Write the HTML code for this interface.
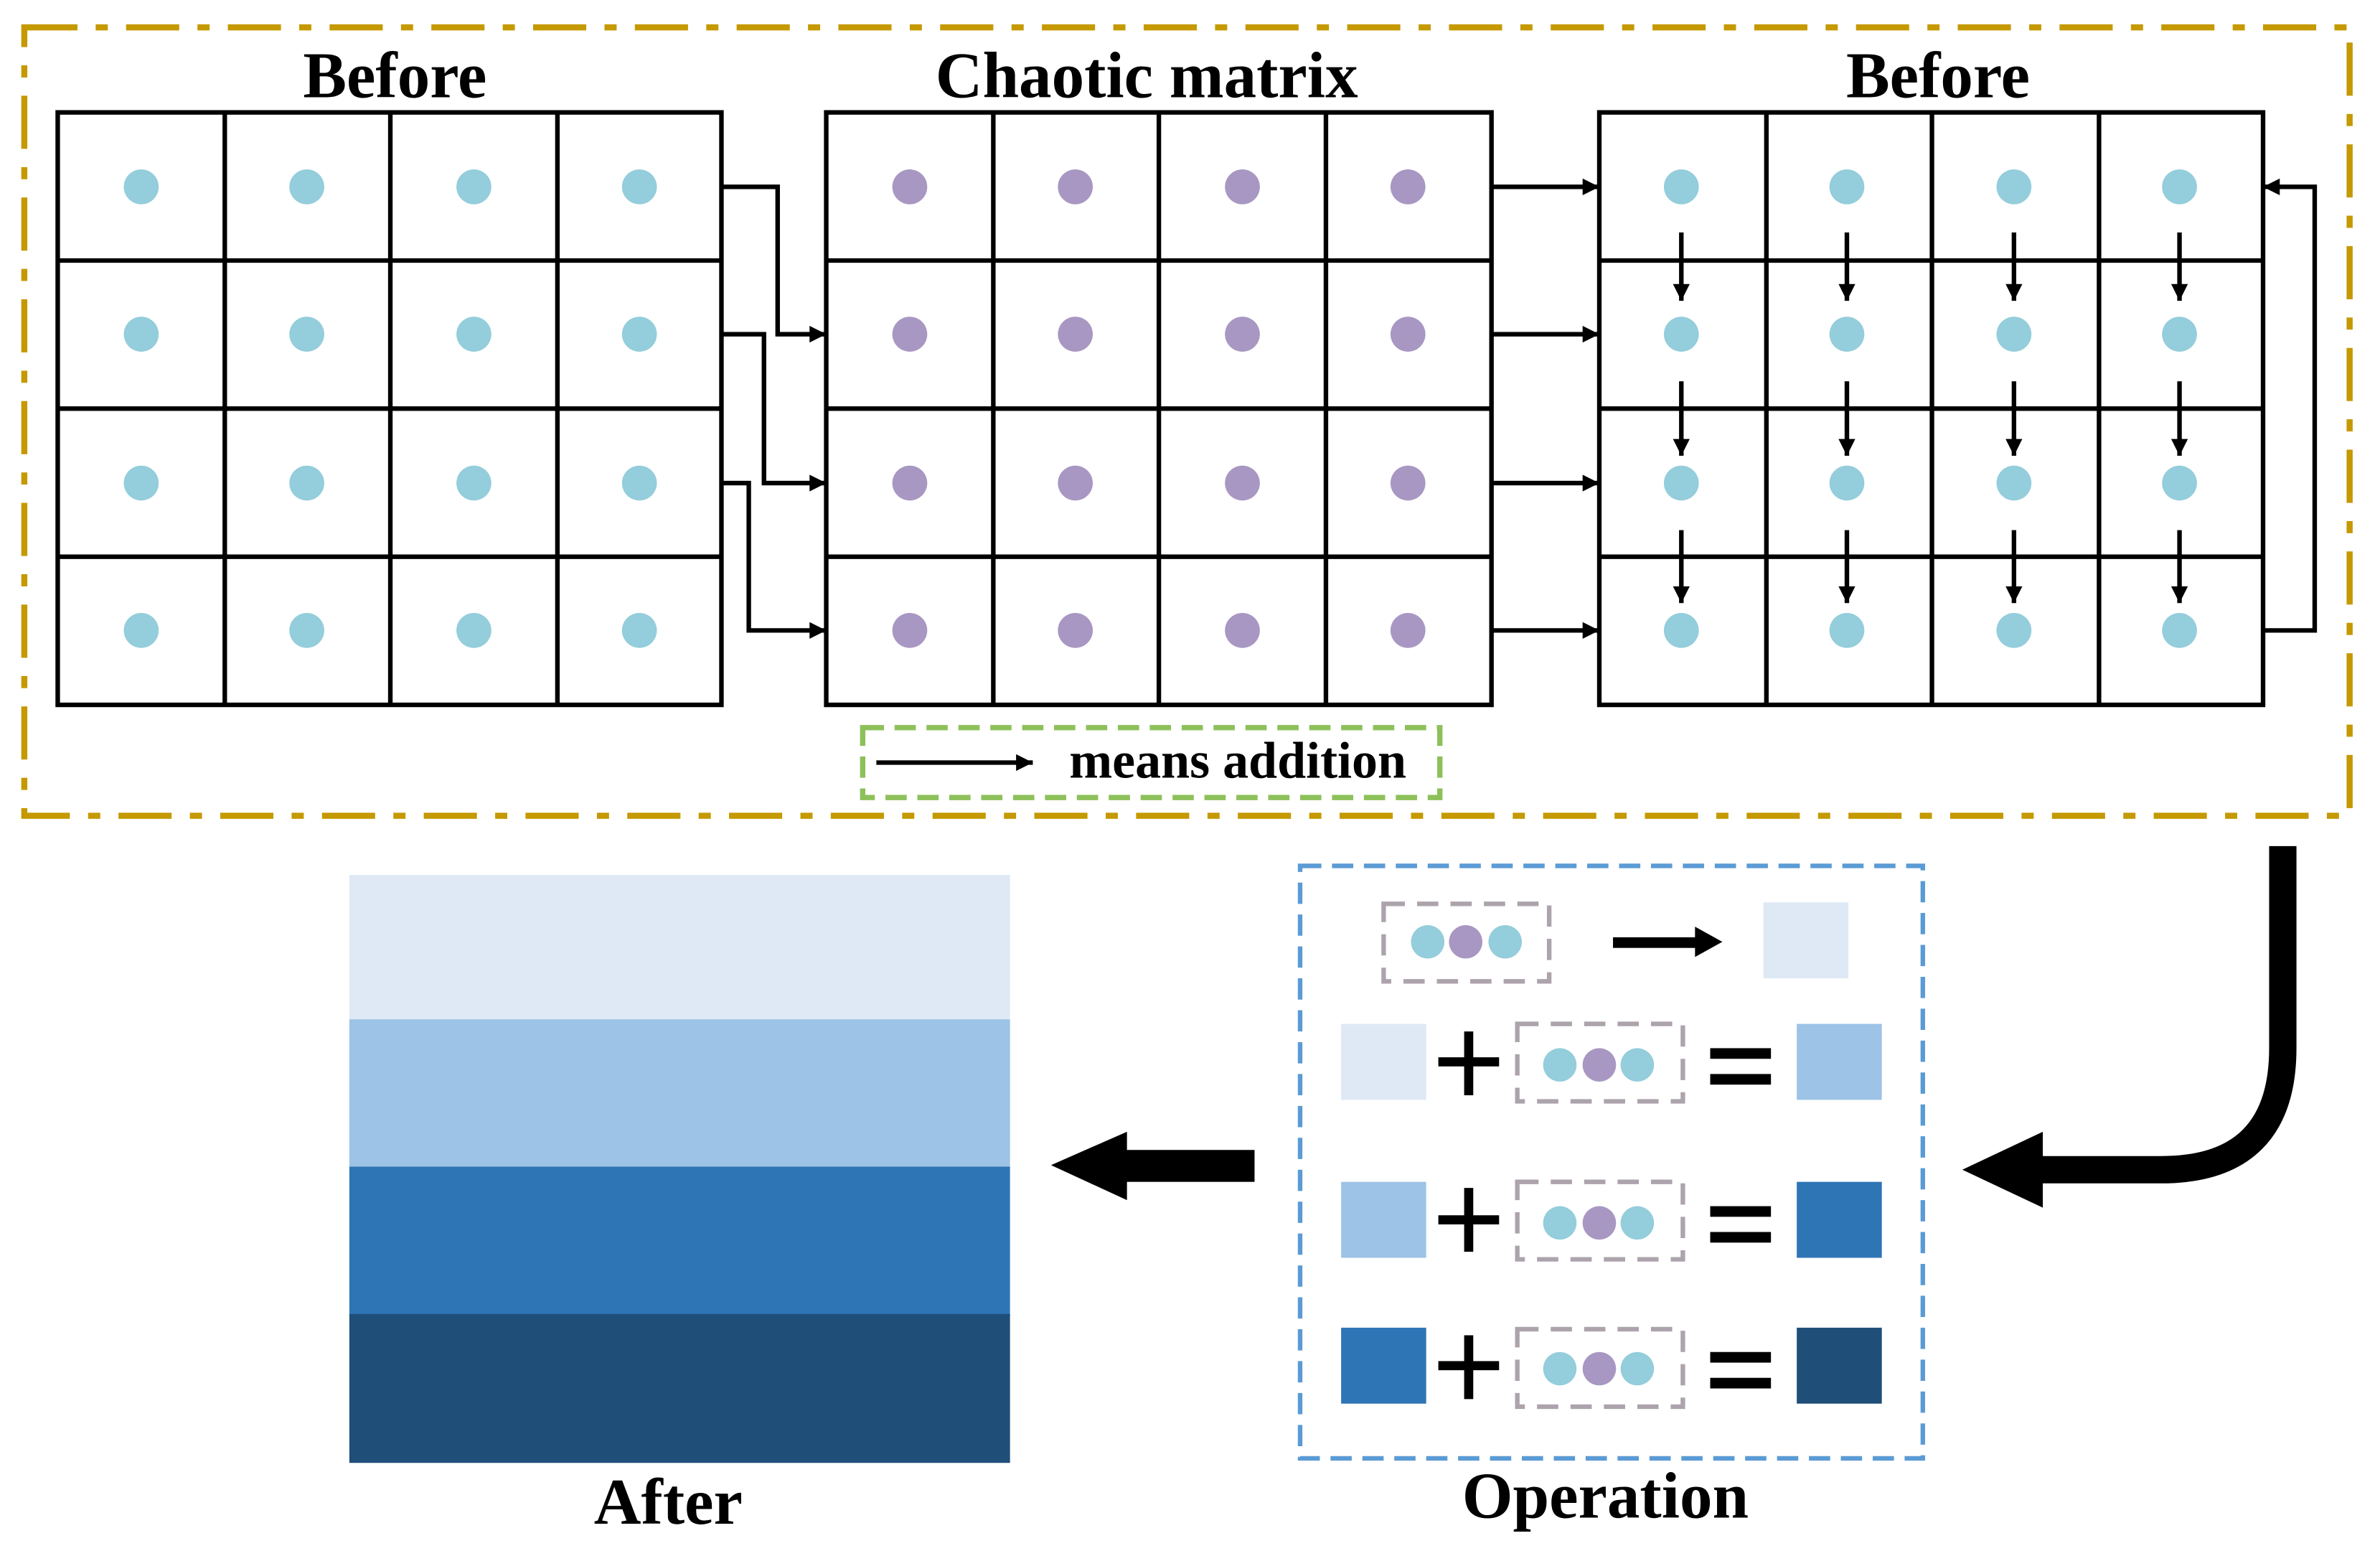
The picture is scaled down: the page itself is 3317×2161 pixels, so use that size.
<!DOCTYPE html>
<html><head><meta charset="utf-8"><style>html,body{margin:0;padding:0;background:#fff}svg{display:block}</style></head>
<body>
<svg width="3317" height="2161" viewBox="0 0 1567 1021" preserveAspectRatio="none" xmlns="http://www.w3.org/2000/svg" font-family="Liberation Serif, serif" font-weight="bold">
<defs>
<marker id="ah" viewBox="0 0 10 10" refX="10" refY="5" markerWidth="15" markerHeight="11" markerUnits="userSpaceOnUse" orient="auto"><path d="M0,0 L10,5 L0,10 z" fill="#000"/></marker>
</defs>
<rect x="0" y="0" width="1567" height="1021" fill="#fff"/>
<rect x="16" y="18" width="1531" height="519" fill="none" stroke="#C59900" stroke-width="4" stroke-dasharray="35,12,8,12"/>
<text x="260" y="64" font-size="43" text-anchor="middle">Before</text>
<text x="755" y="64" font-size="43" text-anchor="middle">Chaotic matrix</text>
<text x="1276" y="64" font-size="43" text-anchor="middle">Before</text>
<g fill="none" stroke="#000" stroke-width="3">
<rect x="38" y="74" width="437" height="390"/>
<path d="M148,74V464M257,74V464M367,74V464M38,171.5H475M38,269H475M38,366.5H475"/>
<rect x="544" y="74" width="438" height="390"/>
<path d="M654,74V464M763,74V464M873,74V464M544,171.5H982M544,269H982M544,366.5H982"/>
<rect x="1053" y="74" width="437" height="390"/>
<path d="M1163,74V464M1272,74V464M1382,74V464M1053,171.5H1490M1053,269H1490M1053,366.5H1490"/>
</g>
<g fill="#94CDDB">
<circle cx="93" cy="123" r="11.5"/><circle cx="202" cy="123" r="11.5"/><circle cx="312" cy="123" r="11.5"/><circle cx="421" cy="123" r="11.5"/>
<circle cx="93" cy="220" r="11.5"/><circle cx="202" cy="220" r="11.5"/><circle cx="312" cy="220" r="11.5"/><circle cx="421" cy="220" r="11.5"/>
<circle cx="93" cy="318" r="11.5"/><circle cx="202" cy="318" r="11.5"/><circle cx="312" cy="318" r="11.5"/><circle cx="421" cy="318" r="11.5"/>
<circle cx="93" cy="415" r="11.5"/><circle cx="202" cy="415" r="11.5"/><circle cx="312" cy="415" r="11.5"/><circle cx="421" cy="415" r="11.5"/>
</g>
<g fill="#A897C2">
<circle cx="599" cy="123" r="11.5"/><circle cx="708" cy="123" r="11.5"/><circle cx="818" cy="123" r="11.5"/><circle cx="927" cy="123" r="11.5"/>
<circle cx="599" cy="220" r="11.5"/><circle cx="708" cy="220" r="11.5"/><circle cx="818" cy="220" r="11.5"/><circle cx="927" cy="220" r="11.5"/>
<circle cx="599" cy="318" r="11.5"/><circle cx="708" cy="318" r="11.5"/><circle cx="818" cy="318" r="11.5"/><circle cx="927" cy="318" r="11.5"/>
<circle cx="599" cy="415" r="11.5"/><circle cx="708" cy="415" r="11.5"/><circle cx="818" cy="415" r="11.5"/><circle cx="927" cy="415" r="11.5"/>
</g>
<g fill="#94CDDB">
<circle cx="1107" cy="123" r="11.5"/><circle cx="1216" cy="123" r="11.5"/><circle cx="1326" cy="123" r="11.5"/><circle cx="1435" cy="123" r="11.5"/>
<circle cx="1107" cy="220" r="11.5"/><circle cx="1216" cy="220" r="11.5"/><circle cx="1326" cy="220" r="11.5"/><circle cx="1435" cy="220" r="11.5"/>
<circle cx="1107" cy="318" r="11.5"/><circle cx="1216" cy="318" r="11.5"/><circle cx="1326" cy="318" r="11.5"/><circle cx="1435" cy="318" r="11.5"/>
<circle cx="1107" cy="415" r="11.5"/><circle cx="1216" cy="415" r="11.5"/><circle cx="1326" cy="415" r="11.5"/><circle cx="1435" cy="415" r="11.5"/>
</g>
<g fill="none" stroke="#000" stroke-width="3" marker-end="url(#ah)">
<path d="M475,123H512V220H544"/>
<path d="M475,220H503V318H544"/>
<path d="M475,318H493V415H544"/>
<path d="M982,123H1053"/><path d="M982,220H1053"/><path d="M982,318H1053"/><path d="M982,415H1053"/>
<path d="M1490,415H1524V123H1490"/>
<path d="M1107,153V198"/><path d="M1216,153V198"/><path d="M1326,153V198"/><path d="M1435,153V198"/>
<path d="M1107,251V300"/><path d="M1216,251V300"/><path d="M1326,251V300"/><path d="M1435,251V300"/>
<path d="M1107,349V397"/><path d="M1216,349V397"/><path d="M1326,349V397"/><path d="M1435,349V397"/>
<path d="M577,502H680"/>
</g>
<rect x="568" y="479" width="380" height="46" fill="none" stroke="#8DC05A" stroke-width="3.5" stroke-dasharray="14,7"/>
<text x="704" y="512" font-size="34">means addition</text>
<path d="M1503,557V690Q1503,770 1423,770H1340" fill="none" stroke="#000" stroke-width="18"/>
<polygon points="1292,770 1345,745 1345,795" fill="#000"/>
<rect x="738" y="757" width="88" height="21" fill="#000"/>
<polygon points="692,767 742,745 742,790" fill="#000"/>
<rect x="230" y="576" width="435" height="96" fill="#DEE9F5"/>
<rect x="230" y="671" width="435" height="98" fill="#9DC3E6"/>
<rect x="230" y="768" width="435" height="98" fill="#2E75B6"/>
<rect x="230" y="865" width="435" height="98" fill="#1F4E79"/>
<text x="440" y="1003" font-size="43" text-anchor="middle">After</text>
<rect x="856" y="570" width="410" height="390" fill="none" stroke="#5B9BD5" stroke-width="3" stroke-dasharray="14,7"/>
<text x="1057" y="999" font-size="43" text-anchor="middle">Operation</text>
<g fill="none" stroke="#ACA3AC" stroke-width="3" stroke-dasharray="14,8">
<rect x="911" y="595" width="109" height="51"/>
<rect x="999" y="674" width="109" height="51"/>
<rect x="999" y="778" width="109" height="51"/>
<rect x="999" y="875" width="109" height="51"/>
</g>
<g>
<circle cx="940" cy="620" r="11" fill="#94CDDB"/><circle cx="965" cy="620" r="11" fill="#A897C2"/><circle cx="991" cy="620" r="11" fill="#94CDDB"/>
<circle cx="1027" cy="701" r="11" fill="#94CDDB"/><circle cx="1053" cy="701" r="11" fill="#A897C2"/><circle cx="1078" cy="701" r="11" fill="#94CDDB"/>
<circle cx="1027" cy="805" r="11" fill="#94CDDB"/><circle cx="1053" cy="805" r="11" fill="#A897C2"/><circle cx="1078" cy="805" r="11" fill="#94CDDB"/>
<circle cx="1027" cy="901" r="11" fill="#94CDDB"/><circle cx="1053" cy="901" r="11" fill="#A897C2"/><circle cx="1078" cy="901" r="11" fill="#94CDDB"/>
</g>
<rect x="1062" y="617" width="55" height="7" fill="#000"/>
<polygon points="1134,620 1116,610 1116,630" fill="#000"/>
<rect x="1161" y="594" width="56" height="50" fill="#DEE9F5"/>
<rect x="883" y="674" width="56" height="50" fill="#DEE9F5"/>
<rect x="1183" y="674" width="56" height="50" fill="#9DC3E6"/>
<rect x="883" y="778" width="56" height="50" fill="#9DC3E6"/>
<rect x="1183" y="778" width="56" height="50" fill="#2E75B6"/>
<rect x="883" y="874" width="56" height="50" fill="#2E75B6"/>
<rect x="1183" y="874" width="56" height="50" fill="#1F4E79"/>
<g fill="#000">
<rect x="947" y="696" width="40" height="6"/><rect x="964" y="679" width="6" height="42"/>
<rect x="947" y="800" width="40" height="6"/><rect x="964" y="782" width="6" height="42"/>
<rect x="947" y="896" width="40" height="6"/><rect x="964" y="879" width="6" height="42"/>
<rect x="1126" y="690" width="40" height="7"/><rect x="1126" y="707" width="40" height="7"/>
<rect x="1126" y="794" width="40" height="7"/><rect x="1126" y="811" width="40" height="7"/>
<rect x="1126" y="890" width="40" height="7"/><rect x="1126" y="907" width="40" height="7"/>
</g>
</svg>
</body></html>
